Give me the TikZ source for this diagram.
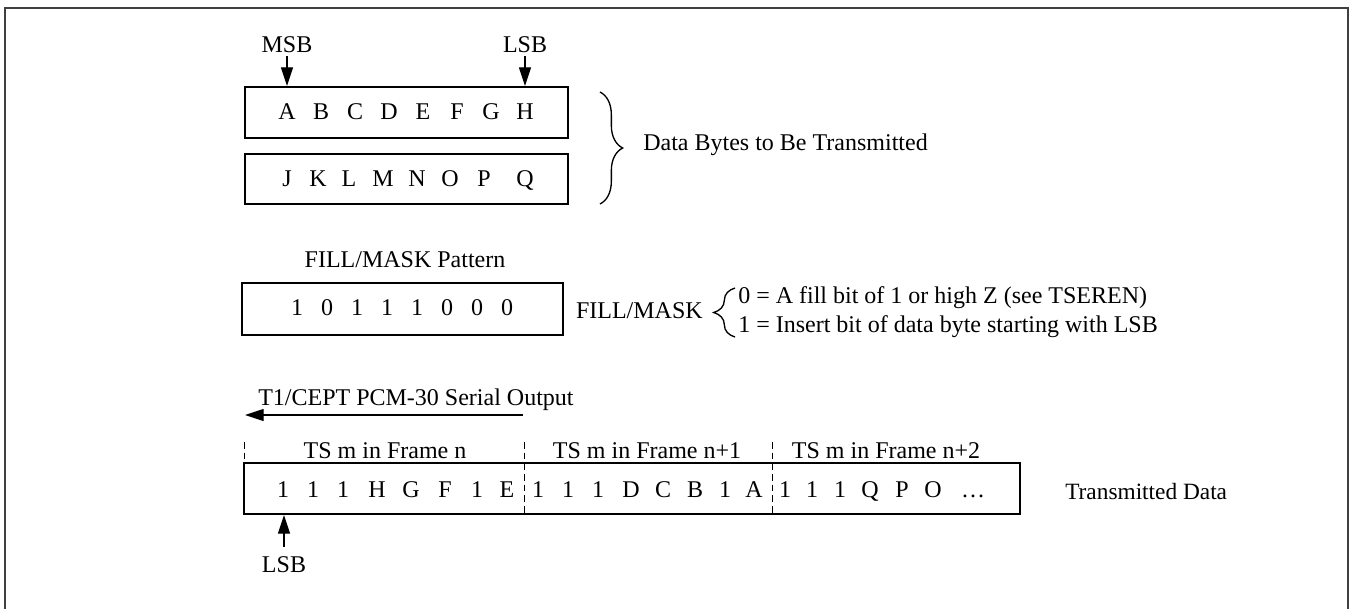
\documentclass[tikz,border=0pt]{standalone}
\usepackage{fontspec}
\setmainfont{Liberation Serif}
\usetikzlibrary{arrows.meta,decorations.pathreplacing}
\begin{document}
\begin{tikzpicture}[x=0.75pt,y=-0.75pt,
  txt/.style={inner sep=0pt,font=\fontsize{18}{21}\selectfont},
  boxn/.style={draw,line width=1.5pt,inner sep=0pt},
  arr/.style={line width=0.8pt,-{Triangle[length=14pt,width=9pt]}},
  dsh/.style={line width=0.7pt,dash pattern=on 5pt off 3pt},
  brc/.style={decorate,line width=1pt,decoration={brace,amplitude=17pt}}]

\useasboundingbox (0,0) rectangle (1351,608);
\draw[line width=1.5pt,black!75] (5,612) -- (5,8) -- (1348,8) -- (1348,612);

% data bytes
\node[boxn,minimum width=242.25pt,minimum height=38.25pt] (b1) at (406.5,112.5) {};
\node[boxn,minimum width=242.25pt,minimum height=37.5pt] (b2) at (406.5,179) {};
\foreach \c/\x in {A/287,B/321,C/355,D/389,E/423,F/457,G/491,H/525}
  \node[txt,anchor=base] (u\c) at (\x,119) {\c};
\foreach \c/\x in {J/287,K/318,L/349,M/383,N/417,O/450,P/484,Q/525}
  \node[txt,anchor=base] (v\c) at (\x,186) {\c};

\node[txt,anchor=base] (msb) at (287,52) {MSB};
\node[txt,anchor=base] (lsb1) at (525,52) {LSB};
\coordinate (msbA) at (287,56);
\coordinate (lsbA) at (525,56);
\draw[arr] (msbA) -- (msbA |- b1.north);
\draw[arr] (lsbA) -- (lsbA |- b1.north);

\draw[brc] (600,92) -- (600,204);
\node[txt,anchor=base west] (dbt) at (643,150) {Data Bytes to Be Transmitted};

% fill/mask
\node[txt,anchor=base] (fmp) at (405,267) {FILL/MASK Pattern};
\node[boxn,minimum width=240.75pt,minimum height=39pt] (b3) at (402.5,309) {};
\foreach \c/\x [count=\i] in {1/297,0/327,1/357,1/387,1/417,0/447,0/477,0/507}
  \node[txt,anchor=base] (d\i) at (\x,315) {\c};

\node[txt,anchor=base east] (fm) at (703,318) {FILL/MASK};
\draw[brc,decoration={brace,amplitude=16pt}] (735,337) -- (735,288);
\node[txt,anchor=base west] (fm0) at (738,303) {0 = A fill bit of 1 or high Z (see TSEREN)};
\node[txt,anchor=base west] (fm1) at (738,332) {1 = Insert bit of data byte starting with LSB};

% serial output
\node[txt,anchor=base west] (ser) at (258,405) {T1/CEPT PCM-30 Serial Output};
\coordinate (serA) at (523,415);
\coordinate (serB) at (245,415);
\draw[arr] (serA) -- (serB);

\node[boxn,minimum width=582pt,minimum height=38.25pt] (b4) at (632,488.5) {};
\coordinate (dv0) at (244,442);
\coordinate (dv1) at (524,442);
\coordinate (dv2) at (772,442);
\draw[dsh] (dv0) -- (dv0 |- b4.north);
\draw[dsh] (dv1) -- (dv1 |- b4.south);
\draw[dsh] (dv2) -- (dv2 |- b4.south);

\node[txt,anchor=base] (h1) at (385,458) {TS m in Frame n};
\node[txt,anchor=base] (h2) at (647,458) {TS m in Frame n+1};
\node[txt,anchor=base] (h3) at (886,458) {TS m in Frame n+2};

\foreach \c/\x [count=\i] in {1/283,1/313,1/343,H/377,G/411,F/445,1/477,E/507,
  1/538,1/568,1/598,D/631,C/663,B/695,1/725,A/754,
  1/785,1/812,1/840,Q/870,P/902,O/933}
  \node[txt,anchor=base] (t\i) at (\x,497) {\c};
\node[txt,anchor=base] (tdots) at (973,497) {\dots};

\node[txt,anchor=base west,font=\fontsize{17.5}{21}\selectfont] (td) at (1065,499) {Transmitted Data};

\node[txt,anchor=base] (lsb2) at (284,572) {LSB};
\coordinate (lsbB) at (284,547);
\draw[arr] (lsbB) -- (lsbB |- b4.south);
\end{tikzpicture}
\end{document}
